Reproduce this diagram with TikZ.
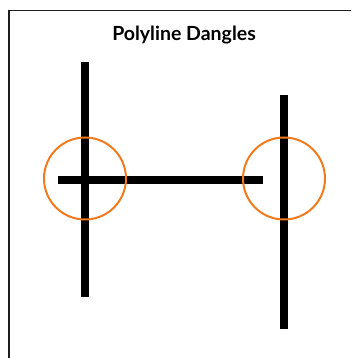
\documentclass[tikz,border=0pt]{standalone}
\usepackage{fontspec}
\setmainfont{Lato}
\usepackage{tikz}
\usetikzlibrary{positioning, calc}
\definecolor{dangleorange}{RGB}{242, 122, 30}
\definecolor{framegray}{RGB}{30, 30, 30}

\tikzset{
    polyline/.style={line width=8pt, black},
    danglering/.style={circle, draw=dangleorange, line width=2pt, minimum size=82pt, inner sep=0pt},
    frameline/.style={line width=1.4pt, framegray}
}

\begin{document}
\begin{tikzpicture}[x=1pt, y=-1pt]
    \useasboundingbox (0,0) rectangle (351,358);
    % frame
    \draw[frameline] (8.8,358) -- (8.8,10.6) -- (351,10.6);
    \node[font=\bfseries\fontsize{19.5}{22}\selectfont, anchor=base, inner sep=0pt] (title) at (184,41) {Polyline Dangles};
    % polylines
    \coordinate (lefttop) at (85,62);
    \coordinate (leftbot) at (85,297);
    \coordinate (rightop) at (284,95);
    \coordinate (rightbot) at (284,329);
    \coordinate (midstart) at (58,180);
    \coordinate (midend) at (263,180);
    \draw[polyline] (lefttop) -- (leftbot);
    \draw[polyline] (rightop) -- (rightbot);
    \draw[polyline] (midstart) -- (midend);
    % dangles
    \node[danglering] (dangleA) at (85,178.5) {};
    \node[danglering] (dangleB) at (284,178.5) {};
\end{tikzpicture}
\end{document}
